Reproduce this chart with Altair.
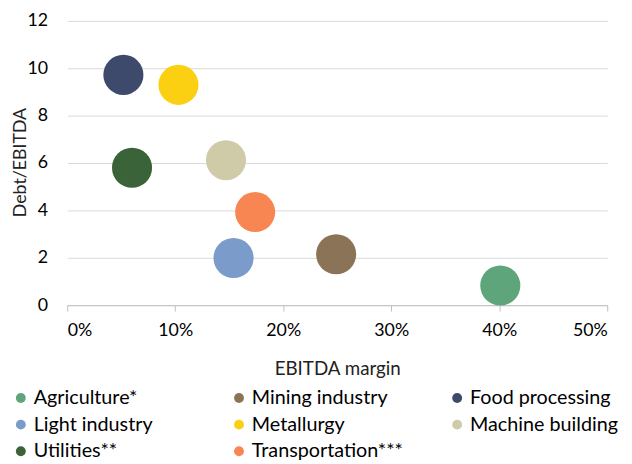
import altair as alt
import pandas as pd

sectors = ["Agriculture*", "Mining industry", "Food processing", "Light industry",
           "Metallurgy", "Machine building", "Utilities**", "Transportation***"]
ebitda_margin = [0.401, 0.249, 0.052, 0.154, 0.103, 0.147, 0.060, 0.174]
debt_ebitda = [0.83, 2.15, 9.72, 1.99, 9.30, 6.12, 5.80, 3.93]
colors = ["#5FA57B", "#8B7357", "#3D4A6B", "#7B9CCB", "#FBCF12", "#CFCAA8", "#3A633A", "#F88652"]

df = pd.DataFrame({"sector": sectors, "margin": ebitda_margin, "debt": debt_ebitda})

FONT = "Lato"

chart = alt.Chart(df).mark_circle(size=1650, opacity=1).encode(
    x=alt.X("margin:Q", title="EBITDA margin",
            scale=alt.Scale(domain=[0, 0.5], nice=False),
            axis=alt.Axis(format=".0%", values=[0, 0.1, 0.2, 0.3, 0.4, 0.5], grid=False,
                          domainColor="#BFBFBF", tickColor="#BFBFBF", tickSize=6,
                          labelFontSize=18, titleFontSize=19, labelPadding=11,
                          titleY=55, labelColor="#000", titleColor="#222",
                          labelFont=FONT, titleFont=FONT, titleFontWeight="normal")),
    y=alt.Y("debt:Q", title="Debt/EBITDA",
            scale=alt.Scale(domain=[0, 12], nice=False),
            axis=alt.Axis(values=[0, 2, 4, 6, 8, 10, 12], grid=True, gridColor="#D9D9D9",
                          domain=False, ticks=False, labelFontSize=18, titleFontSize=18,
                          labelPadding=20, titleX=-38, titleY=143, labelColor="#000",
                          titleColor="#222", labelFont=FONT, titleFont=FONT,
                          titleFontWeight="normal")),
    color=alt.Color("sector:N", title=None,
                    scale=alt.Scale(domain=sectors, range=colors),
                    legend=alt.Legend(orient="none", legendX=-57, legendY=372,
                                      direction="horizontal", columns=3,
                                      gridAlign="all", columnPadding=44, rowPadding=7,
                                      symbolType="circle", symbolSize=100,
                                      symbolStrokeWidth=0, labelFontSize=20,
                                      labelFont=FONT, labelColor="#000",
                                      symbolOffset=0, labelOffset=3)),
).properties(
    width=547, height=288, autosize="none",
    padding={"left": 60, "top": 10, "right": 17, "bottom": 170},
).configure_view(stroke=None)

chart.save("out.html", embed_options={"renderer": "svg", "actions": False})
